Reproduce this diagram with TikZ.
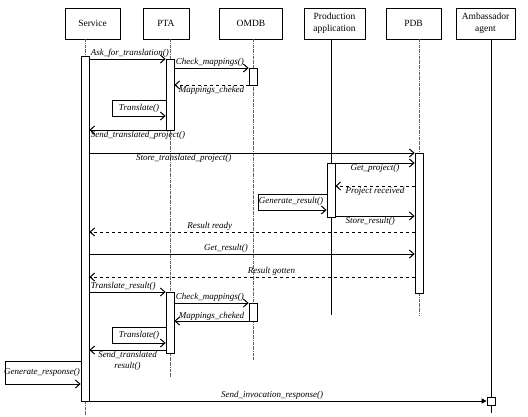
\documentclass[tikz,border=0pt]{standalone}
\usepackage{fontspec}
\setmainfont{Liberation Serif}
\usetikzlibrary{arrows.meta}

\begin{document}
\begin{tikzpicture}[x=1pt,y=-1pt,>={Straight Barb[length=4.5pt,width=8pt]},
    head/.style={draw,line width=.7pt,minimum height=31pt,align=center,inner sep=1pt,font=\fontsize{9.5}{12}\selectfont},
    bar/.style={draw,fill=white,line width=.7pt,minimum width=8pt,inner sep=0pt},
    life/.style={gray!80!black,densely dashdotted,line width=.7pt},
    solidlife/.style={black,line width=1pt},
    msg/.style={->,line width=1pt},
    ret/.style={->,line width=1pt,dashed},
    lbl/.style={font=\fontsize{9}{11}\selectfont\itshape,inner sep=1pt,align=center}]
    \useasboundingbox (0,0) rectangle (528,416);
    % objects
    \node[head,minimum width=55pt] (svc) at (92.5,23.5) {Service};
    \node[head,minimum width=46pt] (pta) at (166,23.5) {PTA};
    \node[head,minimum width=63pt] (omdb) at (251,23.5) {OMDB};
    \node[head,minimum width=61pt] (prod) at (334.5,23.5) {Production\\application};
    \node[head,minimum width=55pt] (pdb) at (413.5,23.5) {PDB};
    \node[head,minimum width=59pt] (amb) at (485.5,23.5) {Ambassador\\agent};
    % lifelines
    \coordinate (svcE) at (85,415);
    \coordinate (ptaE) at (170,377);
    \coordinate (omdbE) at (253,360);
    \coordinate (prodE) at (331,315);
    \coordinate (pdbE) at (419,315);
    \coordinate (ambE) at (491,413);
    \draw[life] (svc.south -| svcE) -- (svcE);
    \draw[life] (pta.south -| ptaE) -- (ptaE);
    \draw[life] (omdb.south -| omdbE) -- (omdbE);
    \draw[solidlife] (prod.south -| prodE) -- (prodE);
    \draw[life] (pdb.south -| pdbE) -- (pdbE);
    \draw[solidlife] (amb.south -| ambE) -- (ambE);
    % activations
    \node[bar,minimum height=345pt] (svcA) at (85,228.5) {};
    \node[bar,minimum height=71pt] (ptaA) at (170,94.5) {};
    \node[bar,minimum height=17pt] (omdbA) at (253,76.5) {};
    \node[bar,minimum height=61pt] (ptaB) at (170,322.5) {};
    \node[bar,minimum height=18pt] (omdbB) at (253,312) {};
    \node[bar,minimum height=54pt] (prodA) at (331,190) {};
    \node[bar,minimum height=140pt] (pdbA) at (419,223) {};
    \node[bar,minimum height=8pt] (ambA) at (491,401) {};
    % translation
    \draw[msg] (svcA.east |- 0,59) -- (ptaA.west |- 0,59) node[lbl,above right,pos=0] (m1) {Ask\_for\_translation()};
    \draw[msg] (ptaA.east |- 0,68) -- (omdbA.west |- 0,68) node[lbl,above right,pos=0] (m2) {Check\_mappings()};
    \draw[ret] (omdbA.west |- 0,85) -- (ptaA.east |- 0,85) node[lbl,below,midway] (m3) {Mappings\_cheked};
    \draw[msg] (ptaA.west |- 0,100) -- (112,100) -- (112,116) -- (ptaA.west |- 0,116);
    \node[lbl] (m4) at (139,108) {Translate()};
    \draw[msg] (ptaA.west |- 0,130) -- (svcA.east |- 0,130) node[lbl,below right,pos=1] (m5) {Send\_translated\_project()};
    % production
    \draw[msg] (svcA.east |- 0,153) -- (pdbA.west |- 0,153) node[lbl,below,pos=.29] (m6) {Store\_translated\_project()};
    \draw[msg] (prodA.east |- 0,163) -- (pdbA.west |- 0,163) node[lbl,below,midway] (m7) {Get\_project()};
    \draw[ret] (pdbA.west |- 0,186) -- (prodA.east |- 0,186) node[lbl,below,midway] (m8) {Project received};
    \draw[msg] (prodA.west |- 0,194) -- (258,194) -- (258,210) -- (prodA.west |- 0,210);
    \node[lbl] (m9) at (291,201) {Generate\_result()};
    \draw[msg] (prodA.east |- 0,216) -- (pdbA.west |- 0,216) node[lbl,below,pos=.44] (m10) {Store\_result()};
    \draw[ret] (pdbA.west |- 0,232) -- (svcA.east |- 0,232) node[lbl,above,pos=.63] (m11) {Result ready};
    \draw[msg] (svcA.east |- 0,254) -- (pdbA.west |- 0,254) node[lbl,above,pos=.42] (m12) {Get\_result()};
    \draw[ret] (pdbA.west |- 0,277) -- (svcA.east |- 0,277) node[lbl,above,pos=.44] (m13) {Result gotten};
    % result translation
    \draw[msg] (svcA.east |- 0,292) -- (ptaB.west |- 0,292) node[lbl,above right,pos=0] (m14) {Translate\_result()};
    \draw[msg] (ptaB.east |- 0,303) -- (omdbB.west |- 0,303) node[lbl,above right,pos=0] (m15) {Check\_mappings()};
    \draw[msg] (omdbB.west |- 0,321) -- (ptaB.east |- 0,321) node[lbl,above,midway,inner sep=0pt] (m16) {Mappings\_cheked};
    \draw[msg] (ptaB.west |- 0,327) -- (112,327) -- (112,343) -- (ptaB.west |- 0,343);
    \node[lbl] (m17) at (139,335) {Translate()};
    \draw[msg] (ptaB.west |- 0,350) -- (svcA.east |- 0,350) node[lbl,below,midway] (m18) {Send\_translated\\result()};
    \draw[msg] (svcA.west |- 0,361) -- (5,361) -- (5,384) -- (svcA.west |- 0,384);
    \node[lbl] (m19) at (42,372) {Generate\_response()};
    \draw[line width=1pt,-{Triangle[length=5pt,width=5pt]}] (svcA.east |- 0,401) -- (ambA.west) node[lbl,above,pos=.46] (m20) {Send\_invocation\_response()};
\end{tikzpicture}
\end{document}
